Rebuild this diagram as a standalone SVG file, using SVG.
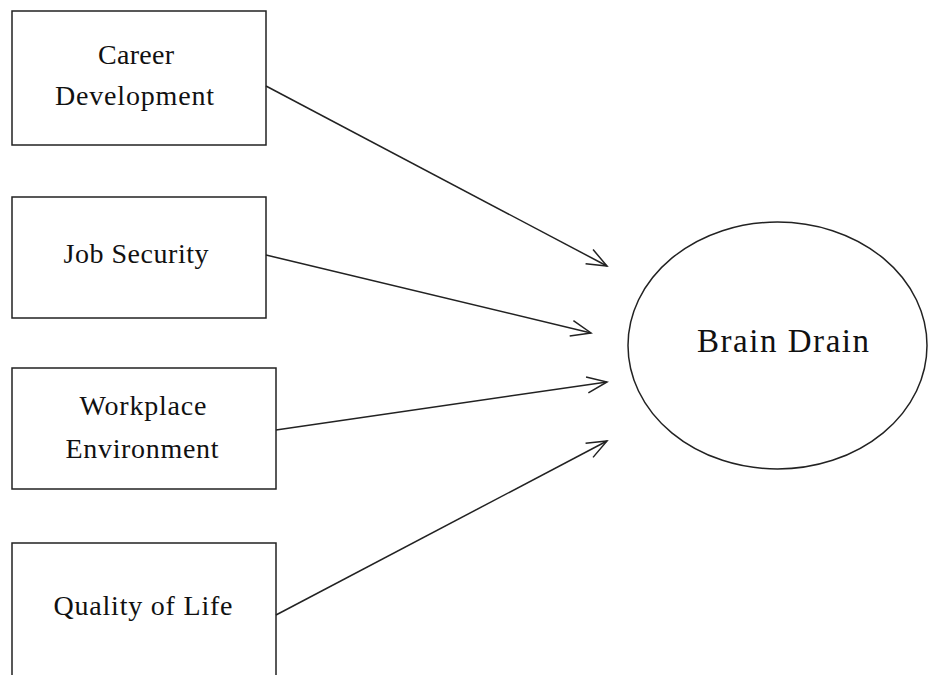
<svg xmlns="http://www.w3.org/2000/svg" width="928" height="675" viewBox="0 0 928 675">
<style>
.box{fill:#fff;stroke:#222;stroke-width:1.5}
.lbl{font-family:"Liberation Serif","Times New Roman",serif;font-size:28px;fill:#111;text-anchor:middle}
.big{font-size:33px}
.conn{stroke:#222;stroke-width:1.5;fill:none;marker-end:url(#arr)}
</style>
<defs>
<marker id="arr" markerUnits="userSpaceOnUse" markerWidth="24" markerHeight="20" viewBox="0 0 24 20" refX="22" refY="10" orient="auto">
<path d="M2,2 L22,10 L2,18" fill="none" stroke="#222" stroke-width="1.5"/>
</marker>
</defs>
<rect width="928" height="675" fill="#fff"/>
<g id="career">
<rect class="box" x="12" y="11" width="254" height="134"/>
<text class="lbl" x="136" y="64" textLength="76" lengthAdjust="spacing">Career</text>
<text class="lbl" x="134.5" y="105" textLength="159" lengthAdjust="spacing">Development</text>
</g>
<g id="job">
<rect class="box" x="12" y="197" width="254" height="121"/>
<text class="lbl" x="136" y="263" textLength="145" lengthAdjust="spacing">Job Security</text>
</g>
<g id="workplace">
<rect class="box" x="12" y="368" width="264" height="121"/>
<text class="lbl" x="143" y="415" textLength="127" lengthAdjust="spacing">Workplace</text>
<text class="lbl" x="142" y="458" textLength="153" lengthAdjust="spacing">Environment</text>
</g>
<g id="quality">
<rect class="box" x="12" y="543" width="264" height="140"/>
<text class="lbl" x="143" y="615" textLength="179" lengthAdjust="spacing">Quality of Life</text>
</g>
<g id="brain">
<ellipse class="box" cx="777.5" cy="345.5" rx="149.5" ry="123.5"/>
<text class="lbl big" x="783" y="352" textLength="172" lengthAdjust="spacing">Brain Drain</text>
</g>
<g id="connectors">
<line class="conn" x1="266" y1="86" x2="607" y2="266"/>
<line class="conn" x1="266" y1="255" x2="591" y2="333"/>
<line class="conn" x1="276" y1="430" x2="607" y2="382"/>
<line class="conn" x1="276" y1="615" x2="607" y2="441"/>
</g>
</svg>
